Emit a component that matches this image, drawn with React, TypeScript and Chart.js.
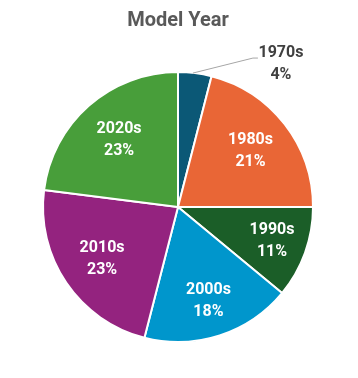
import { useEffect, useRef } from "react";
import { Chart, registerables } from "chart.js";

Chart.register(...registerables);

const categories = ["1970s", "1980s", "1990s", "2000s", "2010s", "2020s"];
const shares = [4, 21, 11, 18, 23, 23];
const sliceColors = ["#0b5876", "#e96636", "#1b5e28", "#0096cc", "#94237f", "#489e3a"];

const LABEL_FONT = "bold 16px Roboto, 'Noto Sans', sans-serif";
// radial placement of inside labels (fraction of radius); first slice labelled outside
const labelRadius = [0, 0.68, 0.74, 0.73, 0.68, 0.66];

const sliceLabels = {
  id: "sliceLabels",
  afterDatasetsDraw(chart: any) {
    const ctx = chart.ctx as CanvasRenderingContext2D;
    const meta = chart.getDatasetMeta(0);
    ctx.save();
    ctx.font = LABEL_FONT;
    ctx.textAlign = "center";
    ctx.textBaseline = "middle";
    meta.data.forEach((arc: any, i: number) => {
      const p = arc.getProps(["x", "y", "startAngle", "endAngle", "outerRadius"], true);
      const mid = (p.startAngle + p.endAngle) / 2;
      const line1 = categories[i];
      const line2 = shares[i] + "%";
      if (i === 0) {
        const ex = p.x + Math.cos(mid) * p.outerRadius;
        const ey = p.y + Math.sin(mid) * p.outerRadius;
        ctx.strokeStyle = "#a6a6a6";
        ctx.lineWidth = 1;
        ctx.beginPath();
        ctx.moveTo(ex - 2, ey);
        ctx.lineTo(ex + 58, ey - 15);
        ctx.lineTo(ex + 63, ey - 15);
        ctx.stroke();
        ctx.fillStyle = "#404040";
        ctx.fillText(line1, ex + 86, ey - 20);
        ctx.fillText(line2, ex + 86, ey + 2);
      } else {
        const r = p.outerRadius * labelRadius[i];
        const cx = p.x + Math.cos(mid) * r;
        const cy = p.y + Math.sin(mid) * r;
        ctx.fillStyle = "#ffffff";
        ctx.fillText(line1, cx, cy - 11);
        ctx.fillText(line2, cx, cy + 11);
      }
    });
    ctx.restore();
  },
};

export default function App() {
  const canvasRef = useRef<HTMLCanvasElement | null>(null);

  useEffect(() => {
    document.body.style.margin = "0";
    const canvas = canvasRef.current;
    if (!canvas) return;
    const chart = new Chart(canvas, {
      type: "pie",
      data: {
        labels: categories,
        datasets: [
          {
            data: shares,
            backgroundColor: sliceColors,
            borderColor: "#ffffff",
            borderWidth: 2,
          },
        ],
      },
      options: {
        animation: false,
        responsive: false,
        maintainAspectRatio: false,
        layout: { padding: { left: 42, right: 44, top: 0, bottom: 35 } },
        plugins: {
          legend: { display: false },
          tooltip: { enabled: false },
          title: {
            display: true,
            text: "Model Year",
            color: "#595959",
            font: { family: "Roboto, 'Noto Sans', sans-serif", size: 20, weight: "bold", lineHeight: 1.2 },
            padding: { top: 9, bottom: 38 },
          },
        },
      },
      plugins: [sliceLabels],
    });
    return () => chart.destroy();
  }, []);

  return (
    <div style={{ width: 358, height: 378, background: "#ffffff" }}>
      <canvas ref={canvasRef} width={358} height={378} style={{ display: "block" }} />
    </div>
  );
}
